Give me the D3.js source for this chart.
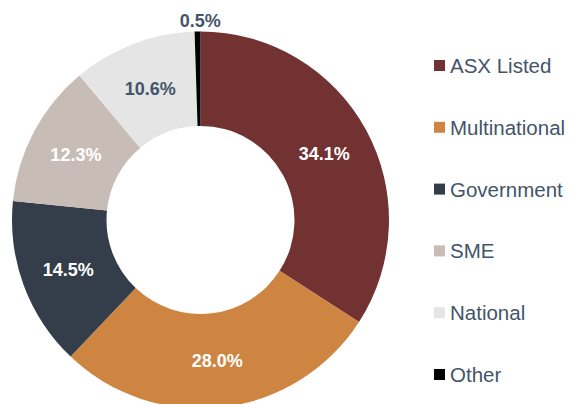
<!DOCTYPE html>
<html>
<head>
<meta charset="utf-8">
<script src="https://cdn.jsdelivr.net/npm/d3@7"></script>
<style>
  body { margin: 0; background: #fff; }
  svg { display: block; font-family: "Liberation Sans", Arial, sans-serif; }
</style>
</head>
<body>
<div id="chart"></div>
<script>
var categories = ["ASX Listed", "Multinational", "Government", "SME", "National", "Other"];
var shares = [34.1, 28.0, 14.5, 12.3, 10.6, 0.5];
var colours = ["#733232", "#cd8541", "#333e4a", "#c8bcb6", "#e5e5e5", "#000000"];
var labelColours = ["#fff", "#fff", "#fff", "#fff", "#44546a", "#44546a"];

var width = 570, height = 404;
var cx = 200.5, cy = 220, outer = 188.5, inner = 94;

var svg = d3.select("#chart").append("svg")
  .attr("width", width)
  .attr("height", height);

var data = categories.map(function(c, i){
  return { name: c, value: shares[i], colour: colours[i], label: labelColours[i] };
});

var pie = d3.pie().sort(null).value(function(d){ return d.value; });
var arc = d3.arc().innerRadius(inner).outerRadius(outer);
var labelArc = d3.arc().innerRadius(141).outerRadius(141);
var outsideArc = d3.arc().innerRadius(outer + 12).outerRadius(outer + 12);

var g = svg.append("g").attr("transform", "translate(" + cx + "," + cy + ")");
var arcs = pie(data);

g.selectAll("path")
  .data(arcs)
  .enter().append("path")
  .attr("d", arc)
  .attr("fill", function(d){ return d.data.colour; });

g.selectAll("text")
  .data(arcs)
  .enter().append("text")
  .attr("transform", function(d){
    var p = d.data.value < 2 ? outsideArc.centroid(d) : labelArc.centroid(d);
    if (d.data.value < 2) p[0] += 3;
    return "translate(" + p[0] + "," + p[1] + ")";
  })
  .attr("text-anchor", "middle")
  .attr("dy", "0.4em")
  .style("font-size", "18px")
  .style("font-weight", "bold")
  .attr("fill", function(d){ return d.data.label; })
  .text(function(d){ return d.data.value.toFixed(1) + "%"; });

// legend
var legendY = d3.scalePoint().domain(categories).range([66, 375]);
var legend = svg.selectAll(".legend")
  .data(data)
  .enter().append("g")
  .attr("class", "legend")
  .attr("transform", function(d){ return "translate(434," + legendY(d.name) + ")"; });

legend.append("rect")
  .attr("x", 0).attr("y", -6)
  .attr("width", 11).attr("height", 11)
  .attr("fill", function(d){ return d.colour; });

legend.append("text")
  .attr("x", 16)
  .attr("y", 7)
  .style("font-size", "20.5px")
  .attr("fill", "#44546a")
  .text(function(d){ return d.name; });
</script>
</body>
</html>
